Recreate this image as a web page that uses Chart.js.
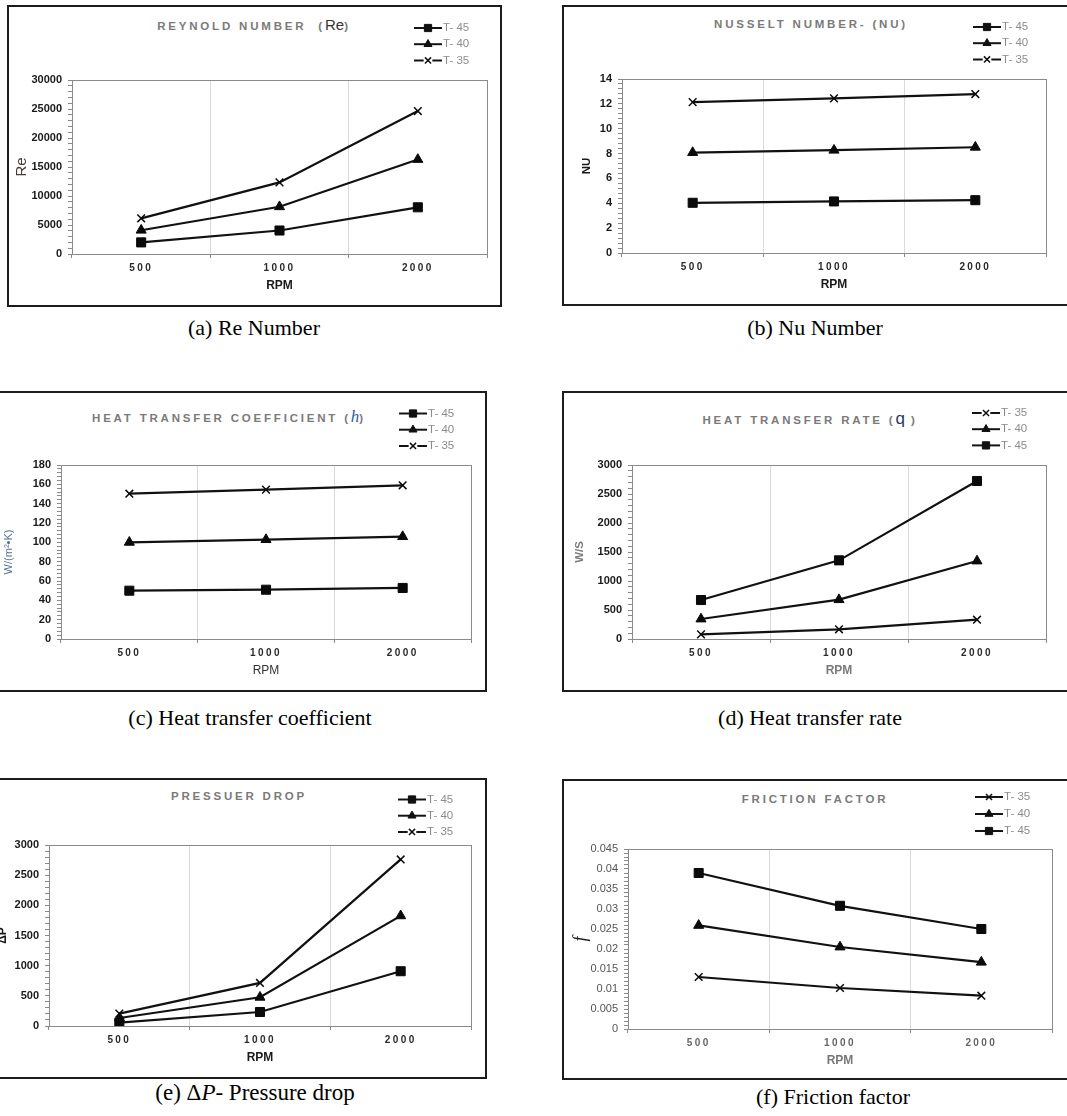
<!DOCTYPE html>
<html>
<head>
<meta charset="utf-8">
<script src="https://cdn.jsdelivr.net/npm/chart.js@4.4.0/dist/chart.umd.min.js"></script>
<style>
  body { margin: 0; background: #fff; width: 1067px; height: 1116px; overflow: hidden; position: relative;
         font-family: "Liberation Sans", Arial, sans-serif; }
  .box { position: absolute; border: 2px solid #1c1c1c; box-sizing: border-box; pointer-events: none; }
  canvas { position: absolute; }
  .ttl { position: absolute; width: 420px; text-align: center; font-weight: bold; font-size: 11.5px;
         letter-spacing: 2.8px; color: #7a7a7a; line-height: 16px; white-space: nowrap; }
  .cap { position: absolute; width: 500px; text-align: center; font-family: "Liberation Serif", "Times New Roman", serif;
         font-size: 22px; color: #000; line-height: 26px; white-space: nowrap; }
</style>
</head>
<body>

<div class="ttl" style="left:44px;top:17px">REYNOLD NUMBER&nbsp;&nbsp;(<span style="font-size:15px;font-weight:normal;letter-spacing:0;color:#333">Re</span>)</div>
<div class="ttl" style="left:601px;top:16px">NUSSELT NUMBER- (NU)</div>
<div class="ttl" style="left:19px;top:409px">HEAT TRANSFER COEFFICIENT (<i style="font-family:'Liberation Serif',serif;font-size:17px;font-weight:normal;letter-spacing:0;color:#2f5f9f">h</i>)</div>
<div class="ttl" style="left:600px;top:411px">HEAT TRANSFER RATE (<span style="font-size:17px;font-weight:normal;letter-spacing:0;color:#1f3a66">q</span> )</div>
<div class="ttl" style="left:29px;top:788px">PRESSUER DROP</div>
<div class="ttl" style="left:605px;top:791px">FRICTION FACTOR</div>

<div class="cap" style="left:4px;top:315px">(a) Re Number</div>
<div class="cap" style="left:565px;top:315px">(b) Nu Number</div>
<div class="cap" style="left:0px;top:705px">(c) Heat transfer coefficient</div>
<div class="cap" style="left:560px;top:705px">(d) Heat transfer rate</div>
<div class="cap" style="left:5px;top:1080px;font-size:23px">(e) &Delta;<i>P</i>- Pressure drop</div>
<div class="cap" style="left:583px;top:1084px">(f) Friction factor</div>

<script>
// x categories (RPM)
var rpm = ['500', '1000', '2000'];

// (a) Reynold number
var reT45 = [2000, 4050, 8050];
var reT40 = [4100, 8150, 16300];
var reT35 = [6150, 12350, 24650];
var reAxis = [0, 30000, 5000];

// (b) Nusselt number
var nuT45 = [4.04, 4.15, 4.25];
var nuT40 = [8.08, 8.27, 8.51];
var nuT35 = [12.14, 12.44, 12.79];
var nuAxis = [0, 14, 2];

// (c) heat transfer coefficient
var hT45 = [50, 51, 52.8];
var hT40 = [100, 102.8, 105.9];
var hT35 = [150.3, 154.5, 159];
var hAxis = [0, 180, 20];

// (d) heat transfer rate
var qT35 = [80, 167, 333];
var qT40 = [345, 678, 1345];
var qT45 = [672, 1356, 2724];
var qAxis = [0, 3000, 500];

// (e) pressure drop
var dpT45 = [55, 232, 908];
var dpT40 = [133, 476, 1826];
var dpT35 = [205, 714, 2761];
var dpAxis = [0, 3000, 500];

// (f) friction factor
var fT35 = [0.013, 0.01025, 0.00833];
var fT40 = [0.0259, 0.0205, 0.0167];
var fT45 = [0.039, 0.0308, 0.025];
var fAxis = [0, 0.045, 0.005];

Chart.defaults.font.family = '"Liberation Sans", Arial, sans-serif';

var shapeOf = { 'T- 45': 'rect', 'T- 40': 'triangle', 'T- 35': 'crossRot' };
var radiusOf = { 'T- 45': 6.4, 'T- 40': 5.8, 'T- 35': 5.4 };

function makeSet(name, values) {
    return {
        label: name,
        data: values,
        borderColor: '#111',
        borderWidth: 2.2,
        tension: 0,
        fill: false,
        pointStyle: shapeOf[name],
        pointRadius: radiusOf[name],
        pointBackgroundColor: '#0a0a0a',
        pointBorderColor: '#0a0a0a',
        pointBorderWidth: name === 'T- 35' ? 1.5 : 1
    };
}

// grey frame round the plot area
var frame = {
    id: 'frame',
    beforeDatasetsDraw: function(chart) {
        var a = chart.chartArea, ctx = chart.ctx;
        ctx.save();
        ctx.strokeStyle = '#8a8a8a';
        ctx.lineWidth = 1;
        ctx.strokeRect(Math.round(a.left) + 0.5, Math.round(a.top) + 0.5,
                       Math.round(a.right - a.left), Math.round(a.bottom - a.top));
        ctx.restore();
    }
};

// letter spaced x labels, like the excel output
var spacedX = {
    id: 'spacedX',
    afterLayout: function(chart) {
        var xs = chart.scales.x;
        if (!xs || xs._spaced) return;
        var orig = xs.drawLabels;
        xs.drawLabels = function(area) {
            chart.ctx.save();
            chart.ctx.letterSpacing = '2.4px';
            orig.call(xs, area);
            chart.ctx.restore();
        };
        xs._spaced = true;
    }
};

// legend at the top right, outside the plot area
var sideLegend = {
    id: 'sideLegend',
    afterDraw: function(chart, args, o) {
        var ctx = chart.ctx;
        ctx.save();
        chart.data.datasets.forEach(function(ds, i) {
            var y = o.y + i * o.dy, x0 = o.x, x1 = o.x + 28, xm = (x0 + x1) / 2;
            var r = ds.pointRadius * 0.8;
            ctx.strokeStyle = '#141414';
            ctx.lineWidth = 2;
            ctx.beginPath();
            if (ds.pointStyle === 'crossRot' && o.gap) {
                ctx.moveTo(x0, y); ctx.lineTo(xm - r, y);
                ctx.moveTo(xm + r, y); ctx.lineTo(x1, y);
            } else {
                ctx.moveTo(x0, y); ctx.lineTo(x1, y);
            }
            ctx.stroke();
            ctx.fillStyle = '#111';
            ctx.strokeStyle = '#111';
            ctx.lineWidth = ds.pointBorderWidth;
            Chart.helpers.drawPoint(ctx, { pointStyle: ds.pointStyle, radius: r, rotation: 0,
                                           borderWidth: ds.pointBorderWidth }, xm, y);
            ctx.font = '11.5px "Liberation Sans", Arial, sans-serif';
            ctx.fillStyle = '#8c8c8c';
            ctx.textBaseline = 'middle';
            ctx.textAlign = 'left';
            ctx.fillText(ds.label, x1 + 1, y);
        });
        ctx.restore();
    }
};

function panel(p) {
    var W = p.box[2] - p.box[0], H = p.box[3] - p.box[1];
    var cv = document.createElement('canvas');
    cv.width = W; cv.height = H;
    cv.style.left = p.box[0] + 'px'; cv.style.top = p.box[1] + 'px';
    cv.style.width = W + 'px'; cv.style.height = H + 'px';
    document.body.appendChild(cv);
    var frameDiv = document.createElement('div');
    frameDiv.className = 'box';
    frameDiv.style.left = p.box[0] + 'px'; frameDiv.style.top = p.box[1] + 'px';
    frameDiv.style.width = W + 'px'; frameDiv.style.height = H + 'px';
    document.body.appendChild(frameDiv);

    var yW = p.area[0] - p.box[0];
    var xTitleLh = 14.4;
    var xH = 32 + xTitleLh / 2;
    var yMin = p.axis[0], yMax = p.axis[1], major = p.axis[2];
    var yLh = p.yFont.size * 1.2;

    new Chart(cv, {
        type: 'line',
        data: {
            labels: rpm,
            datasets: p.sets
        },
        options: {
            responsive: false,
            animation: false,
            events: [],
            layout: {
                padding: {
                    left: 0,
                    top: p.area[1] - p.box[1],
                    right: p.box[2] - p.area[2],
                    bottom: p.box[3] - p.area[3] - xH
                }
            },
            plugins: {
                legend: { display: false },
                title: { display: false },
                tooltip: { enabled: false },
                sideLegend: { x: p.legend[0] - p.box[0], y: p.legend[1] - p.box[1], dy: p.legend[2], gap: p.gap }
            },
            scales: {
                x: {
                    type: 'category',
                    offset: true,
                    grid: {
                        offset: true,
                        drawTicks: true,
                        tickLength: 4,
                        color: function(c) { return c.index === 0 ? 'rgba(0,0,0,0)' : '#dadada'; },
                        tickColor: '#8a8a8a',
                        lineWidth: 1
                    },
                    border: { display: false },
                    ticks: {
                        font: { size: 10, weight: 'bold' },
                        color: p.xTickColor,
                        padding: 4,
                        maxRotation: 0,
                        autoSkip: false
                    },
                    title: {
                        display: true,
                        text: 'RPM',
                        font: { size: 12, weight: p.rpmWeight },
                        color: p.rpmColor,
                        padding: 0
                    },
                    afterFit: function(s) { s.height = xH; }
                },
                y: {
                    min: yMin,
                    max: yMax,
                    grid: {
                        drawOnChartArea: false,
                        drawTicks: true,
                        tickLength: 4,
                        tickColor: '#8a8a8a'
                    },
                    border: { display: false },
                    ticks: {
                        stepSize: major / 5,
                        autoSkip: false,
                        maxTicksLimit: 200,
                        padding: 6,
                        font: { size: 11, weight: p.yTickWeight },
                        color: p.yTickColor,
                        callback: function(v) {
                            var k = v / major;
                            if (Math.abs(k - Math.round(k)) > 1e-6) return '';
                            return String(+v.toFixed(4));
                        }
                    },
                    title: {
                        display: true,
                        text: p.yTitle,
                        font: p.yFont,
                        color: p.yTitleColor,
                        padding: { top: p.yTitleX - p.box[0] - yLh / 2, bottom: 0 }
                    },
                    afterFit: function(s) { s.width = yW; }
                }
            }
        },
        plugins: [frame, spacedX, sideLegend]
    });
}

// (a)
panel({
    box: [7, 5, 502, 307], area: [72, 80, 487, 254],
    legend: [414, 28, 16.2], gap: true,
    sets: [makeSet('T- 45', reT45), makeSet('T- 40', reT40), makeSet('T- 35', reT35)],
    axis: reAxis,
    yTitle: 'Re', yTitleX: 22, yFont: { size: 15, weight: 'normal' }, yTitleColor: '#4a3a30',
    yTickWeight: 'bold', yTickColor: '#1a1a1a', xTickColor: '#2a2a2a', rpmWeight: 'bold', rpmColor: '#1a1a1a'
});

// (b)
panel({
    box: [562, 5, 1080, 306], area: [622, 79, 1046, 253],
    legend: [973, 27, 16.2], gap: true,
    sets: [makeSet('T- 45', nuT45), makeSet('T- 40', nuT40), makeSet('T- 35', nuT35)],
    axis: nuAxis,
    yTitle: 'NU', yTitleX: 587, yFont: { size: 11.5, weight: 'bold' }, yTitleColor: '#1a1a1a',
    yTickWeight: 'bold', yTickColor: '#1a1a1a', xTickColor: '#2a2a2a', rpmWeight: 'bold', rpmColor: '#1a1a1a'
});

// (c)
panel({
    box: [-8, 391, 487, 692], area: [61, 465, 471, 639],
    legend: [399, 413.5, 16.2], gap: true,
    sets: [makeSet('T- 45', hT45), makeSet('T- 40', hT40), makeSet('T- 35', hT35)],
    axis: hAxis,
    yTitle: 'W/(m²•K)', yTitleX: 9, yFont: { size: 11, weight: 'normal' }, yTitleColor: '#4e6e9a',
    yTickWeight: 'bold', yTickColor: '#1a1a1a', xTickColor: '#2a2a2a', rpmWeight: 'normal', rpmColor: '#333'
});

// (d)
panel({
    box: [562, 391, 1080, 692], area: [632, 465, 1046, 639],
    legend: [972, 413, 16.2], gap: true,
    sets: [makeSet('T- 35', qT35), makeSet('T- 40', qT40), makeSet('T- 45', qT45)],
    axis: qAxis,
    yTitle: 'W/S', yTitleX: 580, yFont: { size: 11.5, weight: 'bold' }, yTitleColor: '#7a7a7a',
    yTickWeight: 'bold', yTickColor: '#1a1a1a', xTickColor: '#2a2a2a', rpmWeight: 'bold', rpmColor: '#7a7a7a'
});

// (e)
panel({
    box: [-8, 778, 487, 1079], area: [49, 845, 471, 1026],
    legend: [398, 799.5, 16.2], gap: true,
    sets: [makeSet('T- 45', dpT45), makeSet('T- 40', dpT40), makeSet('T- 35', dpT35)],
    axis: dpAxis,
    yTitle: 'ΔP', yTitleX: 3, yFont: { size: 12, weight: 'bold' }, yTitleColor: '#1a1a1a',
    yTickWeight: 'bold', yTickColor: '#1a1a1a', xTickColor: '#2a2a2a', rpmWeight: 'bold', rpmColor: '#1a1a1a'
});

// (f)
panel({
    box: [562, 779, 1080, 1080], area: [628, 849, 1052, 1029],
    legend: [975, 797, 17], gap: false,
    sets: [makeSet('T- 35', fT35), makeSet('T- 40', fT40), makeSet('T- 45', fT45)],
    axis: fAxis,
    yTitle: 'f', yTitleX: 581, yFont: { size: 18, style: 'italic', family: '"Liberation Serif", serif' }, yTitleColor: '#1a1a1a',
    yTickWeight: 'normal', yTickColor: '#555', xTickColor: '#666', rpmWeight: 'bold', rpmColor: '#777'
});
</script>
</body>
</html>
